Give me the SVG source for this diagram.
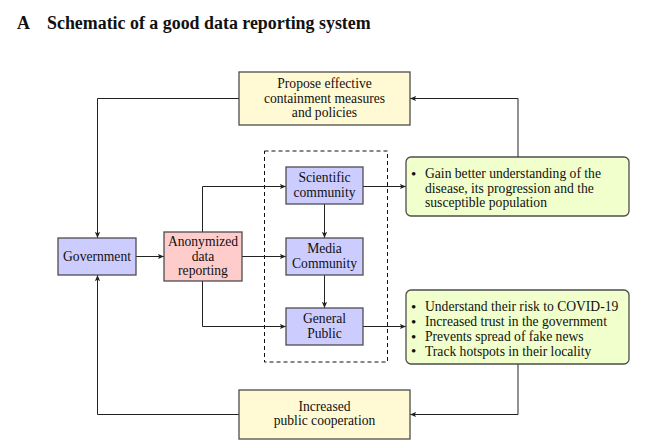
<svg xmlns="http://www.w3.org/2000/svg" width="652" height="446" viewBox="0 0 652 446">
<style>
text{font-family:"Liberation Serif","Times New Roman",serif;font-size:13.6px;fill:#111;}
.c{text-anchor:middle;}
.b{font-size:15px;}
.title{font-size:17.9px;font-weight:bold;}
.node{stroke:#4d4d4d;stroke-width:1.3;}
.blue{fill:#ccccff;}
.pink{fill:#ffcccc;}
.yellow{fill:#fffad4;}
.green{fill:#f0ffcc;}
.conn path{fill:none;stroke:#222;stroke-width:1;marker-end:url(#arr);}
</style>
<defs>
<marker id="arr" viewBox="0 0 8 8" refX="7" refY="4" markerWidth="7" markerHeight="7" markerUnits="userSpaceOnUse" orient="auto">
<path d="M0,1 L7,4 L0,7 L1.5,4 Z" fill="#222"/>
</marker>
</defs>
<rect width="652" height="446" fill="#fff"/>
<text x="17" y="29" class="title">A</text>
<text x="47" y="29" class="title">Schematic of a good data reporting system</text>

<rect x="264.5" y="151" width="123" height="211" fill="none" stroke="#111" stroke-width="1" stroke-dasharray="4,3"/>

<g class="conn">
<path d="M239,98.5 H97.5 V238"/>
<path d="M239,414.5 H97.5 V275"/>
<path d="M136,256.5 H164"/>
<path d="M242,256.5 H286"/>
<path d="M202.5,232 V186.5 H286"/>
<path d="M202.5,281 V326.5 H286"/>
<path d="M324.5,204 V238"/>
<path d="M324.5,275 V308"/>
<path d="M363,186.5 H406"/>
<path d="M363,326.5 H406"/>
<path d="M518,157 V98.5 H410"/>
<path d="M518,364 V414.5 H410"/>
</g>

<g id="propose">
<rect x="239" y="72" width="171" height="53" class="node yellow"/>
<text x="324.5" y="88" class="c">Propose effective</text>
<text x="324.5" y="102.5" class="c">containment measures</text>
<text x="324.5" y="117" class="c">and policies</text>
</g>
<g id="government">
<rect x="58" y="238" width="78" height="37" class="node blue"/>
<text x="97" y="261" class="c">Government</text>
</g>
<g id="anonymized">
<rect x="164" y="232" width="78" height="49" class="node pink"/>
<text x="203" y="246" class="c">Anonymized</text>
<text x="203" y="260.5" class="c">data</text>
<text x="203" y="275" class="c">reporting</text>
</g>
<g id="scientific">
<rect x="286" y="167" width="77" height="37" class="node blue"/>
<text x="324.5" y="182" class="c">Scientific</text>
<text x="324.5" y="196.5" class="c">community</text>
</g>
<g id="media">
<rect x="286" y="238" width="77" height="37" class="node blue"/>
<text x="324.5" y="253" class="c">Media</text>
<text x="324.5" y="267.5" class="c">Community</text>
</g>
<g id="public">
<rect x="286" y="308" width="77" height="37" class="node blue"/>
<text x="324.5" y="323" class="c">General</text>
<text x="324.5" y="337.5" class="c">Public</text>
</g>
<g id="understanding">
<rect x="406" y="157" width="223" height="59" rx="5" class="node green"/>
<text x="411" y="178.5" class="b">•</text>
<text x="425" y="178">Gain better understanding of the</text>
<text x="425" y="192.5">disease, its progression and the</text>
<text x="425" y="207">susceptible population</text>
</g>
<g id="benefits">
<rect x="406" y="290" width="223" height="74" rx="5" class="node green"/>
<text x="411" y="311.5" class="b">•</text>
<text x="425" y="311">Understand their risk to COVID-19</text>
<text x="411" y="326.5" class="b">•</text>
<text x="425" y="326">Increased trust in the government</text>
<text x="411" y="341.5" class="b">•</text>
<text x="425" y="341">Prevents spread of fake news</text>
<text x="411" y="356" class="b">•</text>
<text x="425" y="355.5">Track hotspots in their locality</text>
</g>
<g id="cooperation">
<rect x="239" y="390" width="171" height="49" class="node yellow"/>
<text x="324.5" y="410.5" class="c">Increased</text>
<text x="324.5" y="425" class="c">public cooperation</text>
</g>
</svg>
